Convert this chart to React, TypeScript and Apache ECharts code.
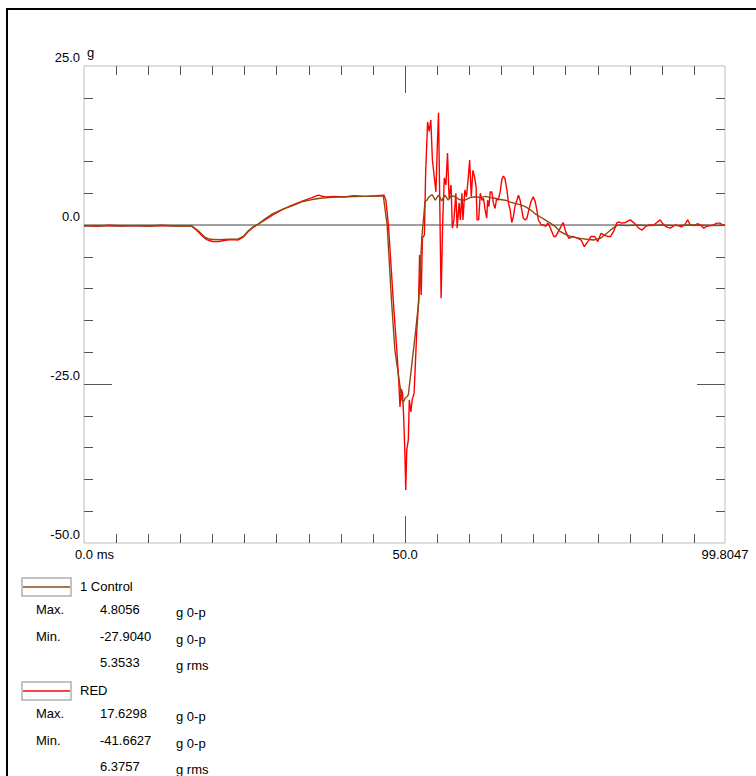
import React, { useEffect, useRef } from 'react';
import * as echarts from 'echarts';

const FONT = '"Liberation Sans", Arial, Helvetica, sans-serif';

// ---- data (time in ms, acceleration in g) ----
const controlPoints: number[][] = [
  [0, -0.15], [2.5, -0.1], [5, -0.15], [7.5, -0.1], [10, -0.15], [12.5, -0.1], [15, -0.15],
  [16.7, -0.15], [17.4, -0.6], [18.1, -1.2], [18.8, -1.9], [19.6, -2.25], [21, -2.3], [22.5, -2.25],
  [24.0, -2.2], [24.8, -1.8], [25.5, -1.0], [26.3, -0.3], [27.1, 0.1], [28.0, 0.8], [29.4, 1.8],
  [31.0, 2.5], [32.6, 3.1], [34.1, 3.7], [35.5, 4.0], [36.8, 4.2], [38.5, 4.35], [41, 4.45],
  [43.5, 4.5], [46.1, 4.56], [46.6, 4.6], [47.2, 0], [47.9, -12.2], [48.4, -19.6], [49.0, -23.9],
  [49.5, -27.5], [49.7, -27.9], [50.0, -27.2], [50.3, -27.0], [50.5, -26.7], [51.0, -22.3],
  [51.6, -17], [52.1, -12.2], [52.6, -2], [53.1, 3.7], [53.4, 3.9], [53.7, 4.4], [54.2, 4.8],
  [54.7, 3.9], [55.2, 4.7], [55.7, 3.8], [56.2, 4.7], [56.7, 3.9], [57.2, 4.6], [57.8, 4.45],
  [58.4, 4.0], [59.3, 3.9], [60.1, 4.3], [60.9, 4.45], [61.7, 4.3], [62.5, 4.5], [63.3, 4.3],
  [64.0, 4.2], [64.8, 4.0], [65.6, 3.9], [66.4, 3.6], [67.1, 3.4], [67.9, 3.2], [68.7, 2.9],
  [69.5, 2.4], [70.2, 1.8], [71.0, 1.3], [71.8, 0.8], [72.6, 0.3], [73.4, -0.26], [74.1, -1.0],
  [75.2, -1.6], [76.2, -1.9], [77.3, -2.1], [78.3, -2.25], [79.3, -2.36], [80.4, -2.1],
  [81.4, -1.3], [82.1, -0.7], [82.7, -0.26], [83.2, 0], [84.5, -0.1], [86, 0], [88, -0.1],
  [90, 0], [92, -0.1], [94, 0], [96, -0.05], [98, -0.1], [99.8, -0.05],
];

const redPoints: number[][] = [
  [0, -0.1], [2, -0.2], [4, -0.05], [6, -0.15], [8, -0.1], [10, -0.2], [12, -0.05], [14, -0.15],
  [16.7, -0.1], [17.5, -0.8], [18.3, -1.6], [19.1, -2.3], [20.0, -2.6], [21.0, -2.6], [22.0, -2.4],
  [23.0, -2.3], [24.0, -2.35], [24.8, -1.9], [25.5, -1.1], [26.3, -0.4], [27.2, 0.2], [28.0, 0.7],
  [29.4, 1.6], [31.0, 2.5], [32.6, 3.2], [34.1, 3.8], [35.5, 4.3], [36.5, 4.7], [37.5, 4.4],
  [39.0, 4.5], [40.5, 4.4], [42.0, 4.6], [44.0, 4.5], [45.5, 4.6], [46.7, 4.7], [47.0, 3.9],
  [47.4, 0], [48.2, -12.6], [48.7, -19.6], [49.0, -24.4], [49.2, -28.6], [49.4, -25.8],
  [49.6, -26.4], [49.75, -29.6], [49.95, -35.4], [50.1, -41.66], [50.25, -35.4], [50.5, -33.8],
  [50.65, -27.5], [50.9, -29.4], [51.1, -27.5], [51.4, -26.4], [51.8, -17], [52.1, -11.8],
  [52.25, -4.7], [52.5, -11], [52.7, -2], [53.0, -1.6], [53.2, 8.4], [53.5, 16.2], [53.75, 14.7],
  [54.0, 16.5], [54.25, 10.2], [54.5, 7.9], [54.8, 5.2], [55.0, 12.1], [55.2, 17.63], [55.4, 3.1],
  [55.6, -11.5], [55.85, 0.5], [56.1, 7.4], [56.35, 6.3], [56.6, 11.3], [56.85, 4.2], [57.15, 6.3],
  [57.35, -0.5], [57.6, 0.8], [57.9, 5.0], [58.1, -0.5], [58.4, 3.5], [58.6, 0.8], [58.85, 5.0],
  [59.0, 0.8], [59.3, 5.5], [59.55, 4.45], [59.8, 7.1], [60.05, 10.2], [60.3, 4.45], [60.55, 8.6],
  [60.8, 7.6], [61.05, 6.0], [61.2, 0.8], [61.45, 0.8], [61.7, 5.0], [61.95, 3.9], [62.2, 4.2],
  [62.45, 2.4], [62.7, 1.1], [62.85, 3.9], [63.05, 2.9], [63.25, 5.2], [63.5, 5.2], [63.75, 3.4],
  [64.0, 2.6], [64.25, 4.2], [64.5, 3.9], [64.8, 5.2], [65.05, 7.1], [65.3, 7.7], [65.55, 7.3],
  [65.85, 5.5], [66.1, 3.4], [66.35, 2.4], [66.6, 0.4], [66.85, 1.3], [67.1, 2.9], [67.4, 3.9],
  [67.65, 4.7], [67.9, 3.9], [68.15, 2.4], [68.4, 1.05], [68.7, 0.8], [68.95, 1.0], [69.2, 2.1],
  [69.6, 3.7], [69.95, 4.45], [70.25, 3.7], [70.5, 2.4], [70.75, 0.8], [71.2, 0], [71.55, 0],
  [71.9, -0.2], [72.2, 0.3], [72.55, -0.3], [72.85, -1.05], [73.15, -1.8], [73.45, -1.8],
  [73.85, -1.05], [74.25, -0.3], [74.6, 0.4], [75.0, -1.05], [75.5, -2.1], [76.1, -1.8],
  [76.9, -2.1], [77.4, -2.36], [77.9, -3.4], [78.45, -2.6], [78.95, -1.8], [79.5, -1.8],
  [80.0, -2.6], [80.5, -1.3], [81.0, -1.6], [81.5, -1.8], [82.0, -1.8], [82.45, -1.05],
  [82.95, 0.3], [83.25, 0.5], [83.75, 0.3], [84.3, 0.4], [85.05, 0.8], [85.7, 0.3], [86.35, -0.5],
  [86.9, -0.8], [87.4, -0.26], [87.9, 0], [88.7, 0], [89.2, 0.4], [89.7, 0.8], [90.2, 0.1],
  [90.7, -0.3], [91.3, -0.5], [92.0, 0], [92.5, -0.1], [93.0, -0.3], [93.5, 0], [94.0, 0.8],
  [94.4, 0], [95.0, -0.1], [95.5, 0.2], [96.0, 0], [96.5, -0.5], [97.0, -0.2], [97.5, -0.1],
  [98.0, 0], [98.5, 0.3], [99.0, 0.3], [99.5, 0], [99.8, 0],
];

// ---- axes ----
const xMin = 0;
const xMax = 99.8047;
const yMin = -50;
const yMax = 25;
const xTickValues = [5, 10, 15, 20, 25, 30, 35, 40, 45, 50, 55, 60, 65, 70, 75, 80, 85, 90, 95];
const xLongTickValues = [50];
const xLabelValues = [0, 50, 99.8047];
const yTickValues = [20, 15, 10, 5, -5, -10, -15, -20, -25, -30, -35, -40, -45];
const yLongTickValues = [-25];
const yLabelValues = [25, 0, -25, -50];

// ---- legend / statistics ----
const seriesNames = ['1 Control', 'RED'];
const seriesColors = ['#8a4a10', '#ff0000'];
const statLabels = ['Max.', 'Min.', ''];
const controlStats = ['4.8056', '-27.9040', '5.3533'];
const redStats = ['17.6298', '-41.6627', '6.3757'];
const statUnits = ['g 0-p', 'g 0-p', 'g rms'];

const TICK_COLOR = '#555';

function tickAxis(kind: 'x' | 'y', position: string, values: number[], length: number) {
  return {
    type: 'value',
    position,
    min: kind === 'x' ? xMin : yMin,
    max: kind === 'x' ? xMax : yMax,
    axisLine: { show: false, onZero: false },
    splitLine: { show: false },
    axisLabel: { show: false },
    axisTick: {
      show: true,
      inside: true,
      length,
      customValues: values,
      lineStyle: { color: TICK_COLOR, width: 1 },
    },
  };
}

function buildLegend() {
  const els: any[] = [];
  const statsList = [controlStats, redStats];
  const boxTops = [578, 682];
  const rowOffsets = [31, 58, 84];
  const font = `13px ${FONT}`;
  seriesNames.forEach((name, i) => {
    const top = boxTops[i];
    els.push({
      type: 'rect',
      shape: { x: 22, y: top, width: 49, height: 18 },
      style: { fill: '#fff', stroke: '#b0b0b0', lineWidth: 1.5 },
      silent: true,
    });
    els.push({
      type: 'line',
      shape: { x1: 23, y1: top + 9, x2: 70, y2: top + 9 },
      style: { stroke: seriesColors[i], lineWidth: 1.5 },
      silent: true,
    });
    els.push({
      type: 'text',
      style: { text: name, x: 80, y: top + 8.5, font, fill: '#000', textAlign: 'left', textVerticalAlign: 'middle' },
      silent: true,
    });
    statLabels.forEach((lab, j) => {
      const y = top + rowOffsets[j];
      if (lab) {
        els.push({
          type: 'text',
          style: { text: lab, x: 36, y, font, fill: '#000', textAlign: 'left', textVerticalAlign: 'middle' },
          silent: true,
        });
      }
      els.push({
        type: 'text',
        style: { text: statsList[i][j], x: 100, y, font, fill: '#000', textAlign: 'left', textVerticalAlign: 'middle' },
        silent: true,
      });
      els.push({
        type: 'text',
        style: { text: statUnits[j], x: 176, y: y + 3, font, fill: '#000', textAlign: 'left', textVerticalAlign: 'middle' },
        silent: true,
      });
    });
  });
  els.push({
    type: 'rect',
    shape: { x: 7, y: 9, width: 800, height: 800 },
    style: { fill: 'none', stroke: '#000', lineWidth: 2 },
    silent: true,
    z: 100,
  });
  return els;
}

export default function App() {
  const ref = useRef<HTMLDivElement>(null);

  useEffect(() => {
    if (!ref.current) return;
    const chart = echarts.init(ref.current, null, { renderer: 'svg' });
    const option: any = {
      animation: false,
      backgroundColor: '#fff',
      textStyle: { fontFamily: FONT },
      grid: {
        left: 84,
        top: 66,
        width: 641,
        height: 477,
        show: true,
        borderColor: '#bdbdbd',
        borderWidth: 1,
        backgroundColor: 'transparent',
      },
      xAxis: [
        {
          type: 'value',
          position: 'bottom',
          min: xMin,
          max: xMax,
          axisLine: { show: false, onZero: false },
          splitLine: { show: false },
          axisTick: {
            show: true,
            inside: true,
            length: 9,
            customValues: xTickValues,
            lineStyle: { color: TICK_COLOR, width: 1 },
          },
          axisLabel: {
            customValues: xLabelValues,
            margin: 5,
            color: '#000',
            fontSize: 13,
            fontFamily: FONT,
            formatter: (v: number) => {
              if (v === 0) return '{u|0.0 ms}';
              if (v === xMax) return String(xMax);
              return v.toFixed(1);
            },
            rich: {
              u: { padding: [0, 0, 0, 21], fontSize: 13, fontFamily: FONT, color: '#000' },
            },
          },
        },
        tickAxis('x', 'top', xTickValues, 9),
        tickAxis('x', 'bottom', xLongTickValues, 27),
        tickAxis('x', 'top', xLongTickValues, 27),
      ],
      yAxis: [
        {
          type: 'value',
          position: 'left',
          min: yMin,
          max: yMax,
          name: 'g',
          nameLocation: 'end',
          nameGap: 7,
          nameTextStyle: {
            color: '#000',
            fontSize: 13,
            fontFamily: FONT,
            align: 'left',
            verticalAlign: 'bottom',
            padding: [0, 0, 0, 3],
          },
          axisLine: { show: false, onZero: false },
          splitLine: { show: false },
          axisTick: {
            show: true,
            inside: true,
            length: 9,
            customValues: yTickValues,
            lineStyle: { color: TICK_COLOR, width: 1 },
          },
          axisLabel: {
            customValues: yLabelValues,
            margin: 4,
            color: '#000',
            fontSize: 13,
            fontFamily: FONT,
            verticalAlign: 'bottom',
            lineHeight: 18,
            formatter: (v: number) => v.toFixed(1),
          },
        },
        tickAxis('y', 'right', yTickValues, 9),
        tickAxis('y', 'left', yLongTickValues, 28),
        tickAxis('y', 'right', yLongTickValues, 28),
      ],
      series: [
        {
          name: 'RED',
          type: 'line',
          xAxisIndex: 0,
          yAxisIndex: 0,
          data: redPoints,
          showSymbol: false,
          symbol: 'none',
          lineStyle: { color: seriesColors[1], width: 1.4 },
          itemStyle: { color: seriesColors[1] },
          z: 3,
          markLine: {
            silent: true,
            symbol: 'none',
            z: 1,
            label: { show: false },
            lineStyle: { color: '#808080', width: 1.5, type: 'solid' },
            data: [{ yAxis: 0 }],
          },
        },
        {
          name: '1 Control',
          type: 'line',
          xAxisIndex: 0,
          yAxisIndex: 0,
          data: controlPoints,
          showSymbol: false,
          symbol: 'none',
          lineStyle: { color: seriesColors[0], width: 1.4 },
          itemStyle: { color: seriesColors[0] },
          z: 4,
        },
      ],
      graphic: buildLegend(),
    };
    chart.setOption(option);
    return () => chart.dispose();
  }, []);

  return (
    <div
      ref={ref}
      style={{ position: 'fixed', left: 0, top: 0, width: 756, height: 776, background: '#fff' }}
    />
  );
}
